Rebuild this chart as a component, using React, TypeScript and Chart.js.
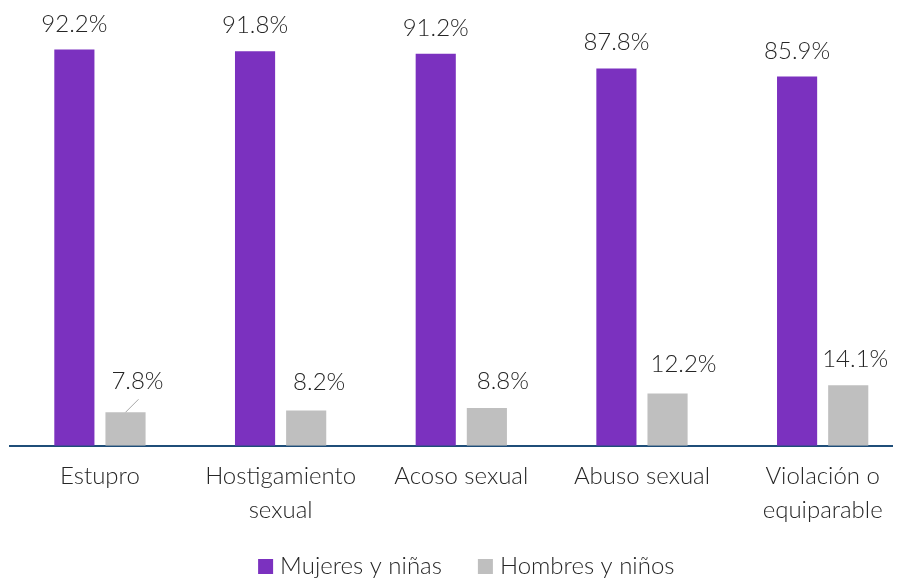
import React, { useEffect, useRef } from 'react';
import { Chart, registerables } from 'chart.js';

Chart.register(...registerables);

const CATEGORIES: string[][] = [
  ['Estupro'],
  ['Hostigamiento', 'sexual'],
  ['Acoso sexual'],
  ['Abuso sexual'],
  ['Violación o', 'equiparable'],
];
const SERIES_NAMES = ['Mujeres y niñas', 'Hombres y niños'];
const MUJERES = [92.2, 91.8, 91.2, 87.8, 85.9];
const HOMBRES = [7.8, 8.2, 8.8, 12.2, 14.1];
const Y_MIN = 0;
const Y_MAX = 100;

const PURPLE = '#7B31BF';
const GRAY = '#BFBFBF';
const TEXT = '#262626';
const AXIS = '#1F4E79';
const FONT = "Lato, 'Open Sans', sans-serif";
const FONT_SIZE = 24;

// label nudges (relative to each bar's top centre)
const PURPLE_LABEL_RISE = 18;
const GRAY_LABEL_DX = [12, 13, 16, 16, 7];
const GRAY_LABEL_RISE = [23, 21, 19, 21, 18.5];

const valueLabels = {
  id: 'valueLabels',
  afterDatasetsDraw(chart: any) {
    const ctx = chart.ctx;
    ctx.save();
    ctx.font = `300 ${FONT_SIZE}px ${FONT}`;
    ctx.fillStyle = TEXT;
    ctx.textAlign = 'center';
    ctx.textBaseline = 'alphabetic';
    chart.data.datasets.forEach((ds: any, di: number) => {
      const meta = chart.getDatasetMeta(di);
      meta.data.forEach((bar: any, i: number) => {
        const v = ds.data[i];
        const text = v.toFixed(1) + '%';
        if (di === 0) {
          ctx.fillText(text, bar.x, bar.y - PURPLE_LABEL_RISE);
        } else {
          ctx.fillText(text, bar.x + GRAY_LABEL_DX[i], bar.y - GRAY_LABEL_RISE[i]);
          if (i === 0) {
            ctx.save();
            ctx.strokeStyle = '#A6A6A6';
            ctx.lineWidth = 1;
            ctx.beginPath();
            ctx.moveTo(bar.x, bar.y);
            ctx.lineTo(bar.x + 13, bar.y - 13);
            ctx.stroke();
            ctx.restore();
          }
        }
      });
    });
    ctx.restore();
  },
};

// legend drawn below the axis labels
const LEGEND_BOX = 15;
const LEGEND_BOX_GAP = 7;
const LEGEND_ITEM_GAP = 36;
const LEGEND_SHIFT = 5;
const LEGEND_FROM_BOTTOM = 12.5;

const bottomLegend = {
  id: 'bottomLegend',
  afterDraw(chart: any) {
    const ctx = chart.ctx;
    ctx.save();
    ctx.font = `300 ${FONT_SIZE}px ${FONT}`;
    ctx.textBaseline = 'middle';
    ctx.textAlign = 'left';
    const items = chart.data.datasets.map((ds: any) => ({
      text: ds.label,
      color: ds.backgroundColor,
      w: ctx.measureText(ds.label).width,
    }));
    const total = items.reduce(
      (s: number, it: any, i: number) => s + LEGEND_BOX + LEGEND_BOX_GAP + it.w + (i > 0 ? LEGEND_ITEM_GAP : 0),
      0
    );
    const cx = (chart.chartArea.left + chart.chartArea.right) / 2 + LEGEND_SHIFT;
    let x = cx - total / 2;
    const cy = chart.height - LEGEND_FROM_BOTTOM;
    items.forEach((it: any) => {
      ctx.fillStyle = it.color;
      ctx.fillRect(x, cy - LEGEND_BOX / 2, LEGEND_BOX, LEGEND_BOX);
      x += LEGEND_BOX + LEGEND_BOX_GAP;
      ctx.fillStyle = TEXT;
      ctx.fillText(it.text, x, cy);
      x += it.w + LEGEND_ITEM_GAP;
    });
    ctx.restore();
  },
};

export default function App() {
  const ref = useRef<HTMLCanvasElement | null>(null);
  useEffect(() => {
    if (!ref.current) return;
    const chart = new Chart(ref.current, {
      type: 'bar',
      data: {
        labels: CATEGORIES,
        datasets: [
          {
            label: SERIES_NAMES[0],
            data: MUJERES,
            backgroundColor: PURPLE,
            categoryPercentage: 0.566,
            barPercentage: 0.785,
          },
          {
            label: SERIES_NAMES[1],
            data: HOMBRES,
            backgroundColor: GRAY,
            categoryPercentage: 0.566,
            barPercentage: 0.785,
          },
        ],
      },
      options: {
        animation: false,
        responsive: true,
        maintainAspectRatio: false,
        layout: { padding: { left: 1.6, right: 0, top: 8, bottom: 39 } },
        scales: {
          x: {
            grid: { display: false, drawTicks: false },
            border: { display: true, color: AXIS, width: 2 },
            ticks: {
              color: TEXT,
              padding: 13,
              maxRotation: 0,
              autoSkip: false,
              font: { family: FONT, size: FONT_SIZE, weight: '300', lineHeight: 1.42 },
            },
          },
          y: {
            display: false,
            min: Y_MIN,
            max: Y_MAX,
          },
        },
        plugins: {
          legend: { display: false },
          tooltip: { enabled: false },
        },
      },
      plugins: [valueLabels, bottomLegend],
    });
    return () => chart.destroy();
  }, []);

  return (
    <div style={{ width: 893, height: 571, overflow: 'hidden', position: 'relative' }}>
      <div style={{ width: 905, height: 571, position: 'relative' }}>
        <canvas ref={ref} />
      </div>
    </div>
  );
}
